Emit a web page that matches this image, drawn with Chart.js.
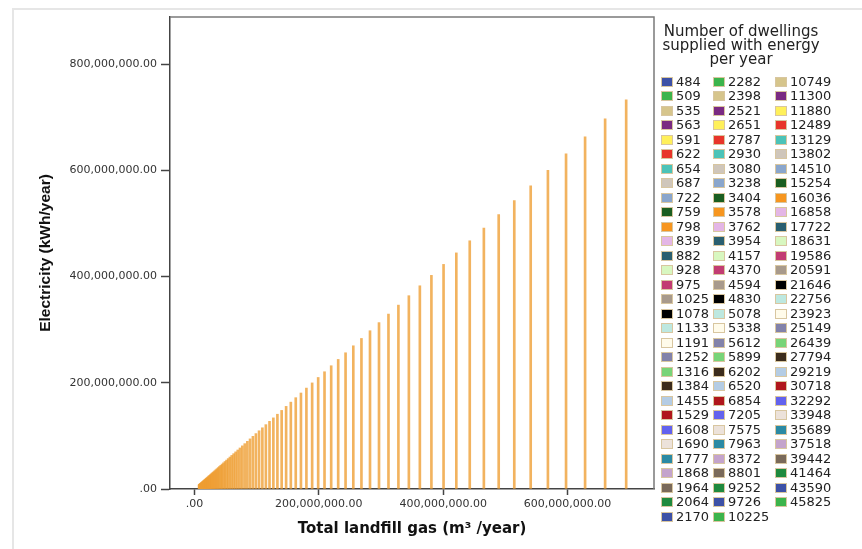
<!DOCTYPE html>
<html>
<head>
<meta charset="utf-8">
<title>Electricity vs total landfill gas</title>
<script src="https://cdn.jsdelivr.net/npm/chart.js@4.4.1/dist/chart.umd.min.js"></script>
<style>
  html, body { margin: 0; padding: 0; background: #fff; }
  #wrap { position: relative; width: 862px; height: 549px; overflow: hidden; background: #fff; }
  #c { position: absolute; left: 0; top: 0; }
  #outer { position: absolute; left: 12px; top: 8px; width: 900px; height: 600px;
           border-left: 2px solid #e6e6e6; border-top: 2px solid #e6e6e6; pointer-events: none; }
  #legend { position: absolute; left: 0; top: 0; width: 862px; height: 549px;
            font-family: "DejaVu Sans", sans-serif; color: #222; pointer-events: none; }
  #legend .ttl { position: absolute; left: 655px; width: 172px; top: 24px; text-align: center;
                 font-size: 15px; line-height: 14.2px; }
  #legend .item { position: absolute; height: 14px; line-height: 14px; font-size: 13px; white-space: nowrap; }
  #legend .sw { position: absolute; left: 0; top: 2px; width: 10px; height: 8px; border: 1px solid #d8c6a0; }
  #legend .lbl { position: absolute; top: 0; }
</style>
</head>
<body>
<div id="wrap">
  <canvas id="c" width="862" height="549"></canvas>
  <div id="outer"></div>
  <div id="legend"></div>
</div>
<script>
// Number of dwellings supplied with energy per year (one vertical line each)
const dwellings = [
  484, 509, 535, 563, 591, 622, 654, 687, 722, 759, 798, 839, 882, 928, 975, 1025,
  1078, 1133, 1191, 1252, 1316, 1384, 1455, 1529, 1608, 1690, 1777, 1868, 1964, 2064, 2170,
  2282, 2398, 2521, 2651, 2787, 2930, 3080, 3238, 3404, 3578, 3762, 3954, 4157, 4370, 4594,
  4830, 5078, 5338, 5612, 5899, 6202, 6520, 6854, 7205, 7575, 7963, 8372, 8801, 9252, 9726, 10225,
  10749, 11300, 11880, 12489, 13129, 13802, 14510, 15254, 16036, 16858, 17722, 18631, 19586,
  20591, 21646, 22756, 23923, 25149, 26439, 27794, 29219, 30718, 32292, 33948, 35689, 37518,
  39442, 41464, 43590, 45825
];

// Total landfill gas, millions of m3 per year
const gasMillions = [
  7.33, 7.71, 8.11, 8.53, 8.95, 9.42, 9.91, 10.41, 10.94, 11.50, 12.09, 12.71, 13.36, 14.06, 14.77, 15.53,
  16.33, 17.16, 18.04, 18.97, 19.94, 20.97, 22.04, 23.16, 24.36, 25.60, 26.92, 28.30, 29.75, 31.27, 32.88,
  34.57, 36.33, 38.19, 40.16, 42.22, 44.39, 46.66, 49.06, 51.57, 54.21, 56.99, 59.90, 62.98, 66.21, 69.60,
  73.17, 76.93, 80.87, 85.02, 89.37, 93.96, 98.78, 103.84, 109.16, 114.76, 120.64, 126.84, 133.34, 140.17, 147.35, 154.91,
  162.85, 171.20, 179.98, 189.21, 198.90, 209.10, 219.83, 231.10, 242.95, 255.40, 268.49, 282.26, 296.73,
  311.95, 327.94, 344.75, 362.43, 381.01, 400.55, 421.08, 442.67, 465.38, 489.22, 514.31, 540.69, 568.40,
  597.55, 628.18, 660.39, 694.25
];

// Electricity, millions of kWh per year
const electricityMillions = [
  7.74, 8.14, 8.56, 9.01, 9.46, 9.95, 10.46, 10.99, 11.55, 12.14, 12.77, 13.42, 14.11, 14.85, 15.60, 16.40,
  17.25, 18.13, 19.06, 20.03, 21.06, 22.14, 23.28, 24.46, 25.73, 27.04, 28.43, 29.89, 31.42, 33.02, 34.72,
  36.51, 38.37, 40.34, 42.42, 44.59, 46.88, 49.28, 51.81, 54.46, 57.25, 60.19, 63.26, 66.51, 69.92, 73.50,
  77.28, 81.25, 85.41, 89.79, 94.38, 99.23, 104.32, 109.66, 115.28, 121.20, 127.41, 133.95, 140.82, 148.03, 155.62, 163.60,
  171.98, 180.80, 190.08, 199.82, 210.06, 220.83, 232.16, 244.06, 256.58, 269.73, 283.55, 298.10, 313.38,
  329.46, 346.34, 364.10, 382.77, 402.38, 423.02, 444.70, 467.50, 491.49, 516.67, 543.17, 571.02, 600.29,
  631.07, 663.42, 697.44, 733.20
];

// Axis tick values
const xTickValues = [0, 200000000, 400000000, 600000000];
const yTickValues = [0, 200000000, 400000000, 600000000, 800000000];

// Legend swatch colours, cycling every 30 entries
const legendPalette = [
  '#3d51a6', '#3cb44b', '#d6c58c', '#7a2a82', '#fff05a', '#e8352a', '#4cc3b8', '#cfc6bb',
  '#8aa6cc', '#1b5e20', '#f7961f', '#e4b6e6', '#2a5f70', '#d8f7c0', '#c23c72', '#a89a8c',
  '#000000', '#bde8e0', '#fffbea', '#8282aa', '#78d478', '#3c2c1c', '#b4cce4', '#b0171c',
  '#6262ee', '#ece2da', '#2b8aa4', '#c4a4cc', '#7a6a5a', '#1f8a3e'
];

const points = gasMillions.map((g, i) => ({ x: g * 1e6, y: electricityMillions[i] * 1e6 }));

function spssNumber(v) {
  if (v === 0) return '.00';
  return v.toLocaleString('en-US', { minimumFractionDigits: 2, maximumFractionDigits: 2 });
}

// Gray frame around the plotting area (top and right sides)
const plotFrame = {
  id: 'plotFrame',
  beforeDatasetsDraw(chart) {
    const a = chart.chartArea, ctx = chart.ctx;
    ctx.save();
    ctx.strokeStyle = '#7a7a7a';
    ctx.lineWidth = 1.5;
    ctx.beginPath();
    ctx.moveTo(a.left, a.top);
    ctx.lineTo(a.right, a.top);
    ctx.lineTo(a.right, a.bottom);
    ctx.stroke();
    ctx.restore();
  }
};

new Chart(document.getElementById('c'), {
  type: 'bar',
  data: {
    datasets: [{
      data: points,
      backgroundColor: 'rgba(238,158,50,0.78)',
      borderWidth: 0,
      barThickness: 2,
      grouped: false
    }]
  },
  options: {
    responsive: false,
    animation: false,
    layout: { padding: { top: 17, right: 208, left: 0, bottom: 0 } },
    plugins: { legend: { display: false }, tooltip: { enabled: false } },
    scales: {
      x: {
        type: 'linear',
        offset: false,
        min: -39400000,
        max: 739000000,
        afterBuildTicks: s => { s.ticks = xTickValues.map(v => ({ value: v })); },
        afterFit: s => { s.height = 60; },
        grid: { offset: false, drawOnChartArea: false, drawTicks: true, tickLength: 6, tickColor: '#444', tickWidth: 1.5 },
        border: { display: true, color: '#444', width: 1.5 },
        ticks: {
          font: { family: 'DejaVu Sans', size: 11 }, color: '#333', padding: 3,
          maxRotation: 0, autoSkip: false, callback: v => spssNumber(v)
        },
        title: {
          display: true, text: 'Total landfill gas (m³ /year)', color: '#111',
          font: { family: 'DejaVu Sans', size: 15, weight: 'bold' },
          padding: { top: 0, bottom: 11 }
        }
      },
      y: {
        type: 'linear',
        min: 0,
        max: 889000000,
        afterBuildTicks: s => { s.ticks = yTickValues.map(v => ({ value: v })); },
        afterFit: s => { s.width = 170; },
        grid: { offset: false, drawOnChartArea: false, drawTicks: true, tickLength: 9, tickColor: '#444', tickWidth: 1.5 },
        border: { display: true, color: '#444', width: 1.5 },
        ticks: {
          font: { family: 'DejaVu Sans', size: 11 }, color: '#333', padding: 4,
          autoSkip: false, callback: v => spssNumber(v)
        },
        title: {
          display: true, text: 'Electricity (kWh/year)', color: '#111',
          font: { family: 'Liberation Sans', size: 15.5, weight: 'bold' },
          padding: { top: 36, bottom: 0 }
        }
      }
    }
  },
  plugins: [plotFrame]
});

// Legend: title plus three columns of swatches
(function buildLegend() {
  const host = document.getElementById('legend');
  const ttl = document.createElement('div');
  ttl.className = 'ttl';
  ttl.innerHTML = 'Number of dwellings<br>supplied with energy<br>per year';
  host.appendChild(ttl);
  const colLeft = [661, 713, 775];
  const perCol = 31;
  dwellings.forEach((d, i) => {
    const col = Math.floor(i / perCol), row = i % perCol;
    const item = document.createElement('div');
    item.className = 'item';
    item.style.left = colLeft[col] + 'px';
    item.style.top = (74.5 + row * 14.5) + 'px';
    const sw = document.createElement('span');
    sw.className = 'sw';
    sw.style.background = legendPalette[i % legendPalette.length];
    const lbl = document.createElement('span');
    lbl.className = 'lbl';
    lbl.style.left = '15px';
    lbl.textContent = String(d);
    item.appendChild(sw);
    item.appendChild(lbl);
    host.appendChild(item);
  });
})();
</script>
</body>
</html>
